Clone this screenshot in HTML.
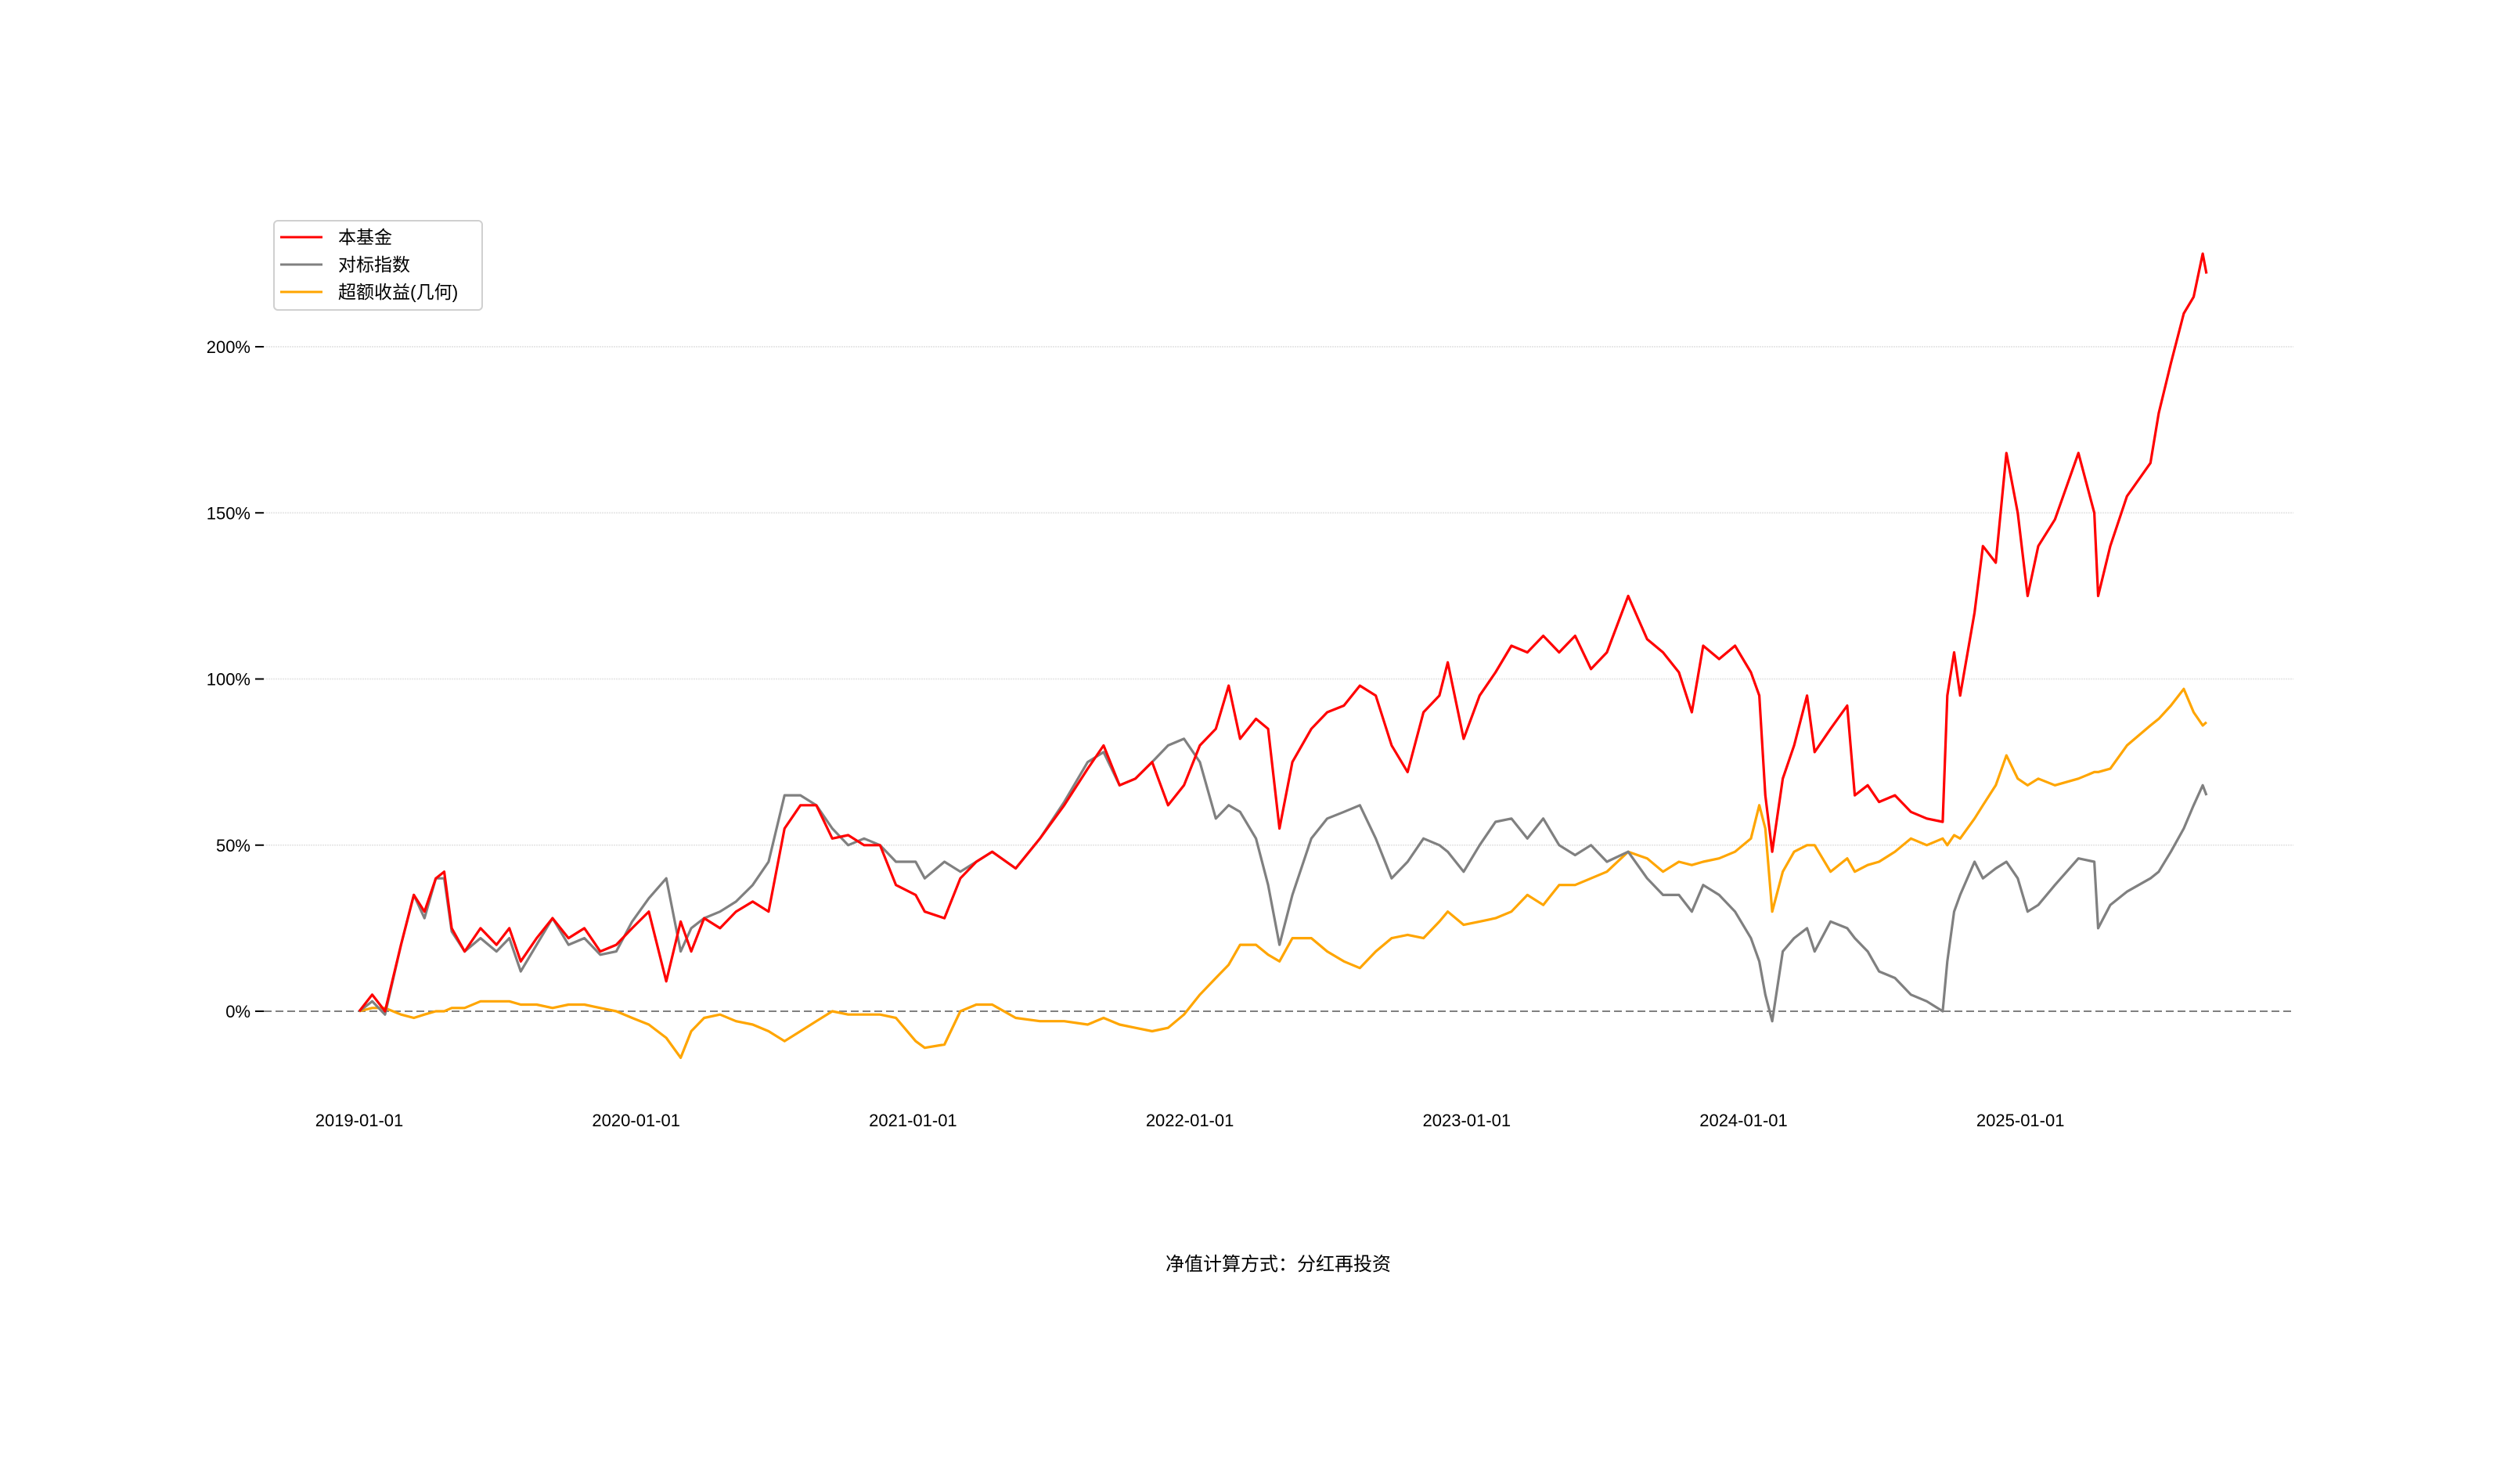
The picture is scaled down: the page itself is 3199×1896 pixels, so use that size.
<!DOCTYPE html>
<html><head><meta charset="utf-8"><style>
html,body{margin:0;padding:0;background:#fff}
svg{display:block}
text{font-family:"Liberation Sans","Noto Sans CJK SC",sans-serif;fill:#000}
</style></head><body>
<svg id="chart" width="3199" height="1896" viewBox="0 0 3199 1896" xmlns="http://www.w3.org/2000/svg">
<g id="grid"></g>
<g id="yaxis"></g>
<g id="xaxis"></g>
<g id="series"></g>
<g>
<rect x="350" y="282" width="266" height="114" rx="5" fill="#fff" stroke="#d0d0d0" stroke-width="2"/>
<line x1="358" y1="303" x2="412" y2="303" stroke="#ff0000" stroke-width="3"/>
<text x="432" y="311" font-size="23">本基金</text>
<line x1="358" y1="338" x2="412" y2="338" stroke="#808080" stroke-width="3"/>
<text x="432" y="346" font-size="23">对标指数</text>
<line x1="358" y1="373" x2="412" y2="373" stroke="#ffa500" stroke-width="3"/>
<text x="432" y="381" font-size="23">超额收益(几何)</text>
</g>
<text x="1633" y="1623" font-size="24" text-anchor="middle">净值计算方式：分红再投资</text>
</svg>
<script>
const days=[0,17,34,55,72,86,101,112,122,139,
160,181,198,213,234,255,276,297,318,339,
360,382,405,424,438,455,476,497,519,540,
561,582,603,624,645,666,687,708,734,746,
772,793,814,835,866,898,930,961,982,1003,
1024,1046,1067,1088,1109,1130,1147,1162,1183,1199,
1214,1231,1256,1277,1299,1320,1341,1362,1383,1404,
1425,1436,1457,1478,1499,1520,1541,1562,1583,1604,
1625,1646,1674,1699,1720,1741,1758,1773,1794,1815,
1836,1847,1855,1864,1878,1893,1910,1920,1941,1963,
1973,1990,2005,2026,2047,2068,2089,2095,2104,2112,
2131,2142,2159,2173,2188,2201,2215,2237,2268,2289,
2294,2310,2332,2363,2374,2390,2407,2420,2432,2437];
const fundValues=[0,5,0,20,35,30,40,42,25,18,
25,20,25,15,22,28,22,25,18,20,
25,30,9,27,18,28,25,30,33,30,
55,62,62,52,53,50,50,38,35,30,
28,40,45,48,43,52,62,73,80,68,
70,75,62,68,80,85,98,82,88,85,
55,75,85,90,92,98,95,80,72,90,
95,105,82,95,102,110,108,113,108,113,
103,108,125,112,108,102,90,110,106,110,
102,95,65,48,70,80,95,78,85,92,
65,68,63,65,60,58,57,95,108,95,
120,140,135,168,150,125,140,148,168,150,
125,140,155,165,180,195,210,215,228,222];
const indexValues=[0,3,-1,20,35,28,40,40,24,18,
22,18,22,12,20,28,20,22,17,18,
27,34,40,18,25,28,30,33,38,45,
65,65,62,55,50,52,50,45,45,40,
45,42,45,48,43,52,63,75,78,68,
70,75,80,82,75,58,62,60,52,38,
20,35,52,58,60,62,52,40,45,52,
50,48,42,50,57,58,52,58,50,47,
50,45,48,40,35,35,30,38,35,30,
22,15,5,-3,18,22,25,18,27,25,
22,18,12,10,5,3,0,15,30,35,
45,40,43,45,40,30,32,38,46,45,
25,32,36,40,42,48,55,62,68,65];
const excessValues=[0,1,1,-1,-2,-1,0,0,1,1,
3,3,3,2,2,1,2,2,1,0,
-2,-4,-8,-14,-6,-2,-1,-3,-4,-6,
-9,-6,-3,0,-1,-1,-1,-2,-9,-11,
-10,0,2,2,-2,-3,-3,-4,-2,-4,
-5,-6,-5,-1,5,10,14,20,20,17,
15,22,22,18,15,13,18,22,23,22,
27,30,26,27,28,30,35,32,38,38,
40,42,48,46,42,45,44,45,46,48,
52,62,55,30,42,48,50,50,42,46,
42,44,45,48,52,50,52,50,53,52,
58,62,68,77,70,68,70,68,70,72,
72,73,80,86,88,92,97,90,86,87];
const yTicks=[0,50,100,150,200];
const yTickLabels=["0%","50%","100%","150%","200%"];
const xTickYears=[0,1,2,3,4,5,6];
const xTickLabels=["2019-01-01","2020-01-01","2021-01-01","2022-01-01","2023-01-01","2024-01-01","2025-01-01"];

const NS="http://www.w3.org/2000/svg";
const X0=459, PX_PER_YEAR=353.7, Y0=1292, PX_PER_PCT=4.245, PLOT_L=337, PLOT_R=2930;
function xDay(d){return X0+d/365.25*PX_PER_YEAR;}
function xYear(y){return X0+y*PX_PER_YEAR;}
function yVal(v){return Y0-v*PX_PER_PCT;}
function mk(tag,attrs,parent){const e=document.createElementNS(NS,tag);for(const k in attrs)e.setAttribute(k,attrs[k]);parent.appendChild(e);return e;}

const grid=document.getElementById('grid'),yaxis=document.getElementById('yaxis'),xaxis=document.getElementById('xaxis'),series=document.getElementById('series');
yTicks.forEach((t,i)=>{
  const y=yVal(t);
  if(t!==0){
    const g=mk('line',{x1:PLOT_L,y1:y,x2:PLOT_R,y2:y,stroke:'#e8e8e8','stroke-width':2,'stroke-dasharray':'2 1'},grid);
    
    
  }
  const tk=mk('line',{x1:326,y1:y,x2:337,y2:y,stroke:'#000','stroke-width':2},yaxis);
  
  
  const tx=mk('text',{x:320,y:y+8,'font-size':22,'text-anchor':'end'},yaxis);
  tx.textContent=yTickLabels[i];
  
  
});
const zl=mk('line',{x1:PLOT_L,y1:yVal(0),x2:PLOT_R,y2:yVal(0),stroke:'#808080','stroke-width':2,'stroke-dasharray':'10 5'},grid);


xTickYears.forEach((yr,i)=>{
  const t=mk('text',{x:xYear(yr),y:1439,'font-size':22,'text-anchor':'middle'},xaxis);
  t.textContent=xTickLabels[i];
  
  
});
function drawLine(vals,color,name){
  const pts=days.map((d,i)=>xDay(d).toFixed(1)+','+yVal(vals[i]).toFixed(1)).join(' ');
  const p=mk('polyline',{points:pts,fill:'none',stroke:color,'stroke-width':3.2,'stroke-linejoin':'round'},series);
  
  
}
drawLine(excessValues,'#ffa500','excess-return-line');
drawLine(indexValues,'#808080','benchmark-index-line');
drawLine(fundValues,'#ff0000','fund-line');
</script>
</body></html>
